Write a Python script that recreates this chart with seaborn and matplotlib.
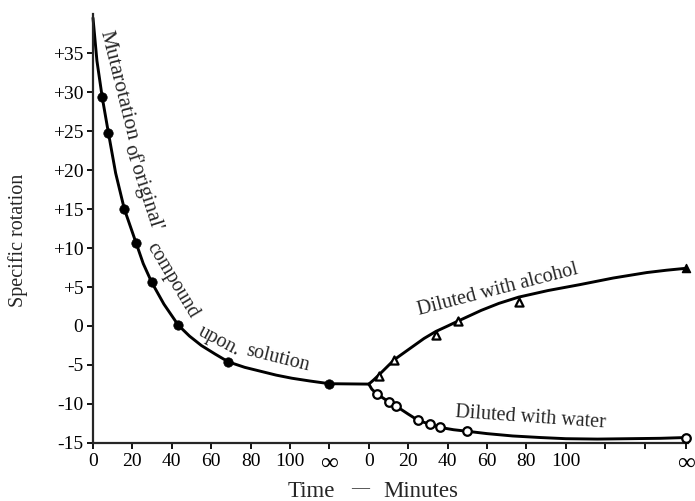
import numpy as np
import matplotlib
matplotlib.use("Agg")
import matplotlib.pyplot as plt
import seaborn as sns

INF = np.inf

# ---- data (minutes, specific rotation) ----
orig_t = [4.7, 7.8, 15.9, 21.8, 29.8, 43.3, 68.7, INF]
orig_v = [29.3, 24.8, 15.0, 10.7, 5.6, 0.1, -4.6, -7.4]

alc_t = [5, 13, 34, 45, 76, INF]
alc_v = [-6.4, -4.3, -1.2, 0.6, 3.1, 7.4]

water_t = [4, 10, 14, 25, 31, 36, 50, INF]
water_v = [-8.7, -9.7, -10.3, -12.1, -12.6, -13.0, -13.5, -14.3]

# smooth curves
curve_orig_t = [0, 2, 4.7, 7.8, 11.5, 15.9, 21.8, 25.5, 29.8, 36, 43.3, 49, 55,
                62, 68.7, 77, 85, 93, 101, 110, INF]
curve_orig_v = [39.5, 34.0, 29.3, 24.8, 19.6, 15.0, 10.7, 8.0, 5.6, 2.8, 0.1, -1.3,
                -2.5, -3.6, -4.6, -5.3, -5.8, -6.3, -6.7, -7.05, -7.4]
curve_alc_t = [0, 2.5, 5, 9, 13, 18, 23, 28, 34, 40, 45, 51, 57, 66, 76, 91, 107,
               124, 141, 151, INF]
curve_alc_v = [-7.45, -6.9, -6.3, -5.3, -4.3, -3.4, -2.5, -1.6, -0.7, 0.0, 0.6, 1.3,
               2.0, 2.9, 3.7, 4.55, 5.3, 6.15, 6.85, 7.15, 7.4]
curve_water_t = [0, 1.5, 4, 10, 14, 20, 25, 31, 36, 43, 50, 60, 73, 87, 100, 116,
                 132, 148, INF]
curve_water_v = [-7.45, -8.1, -8.7, -9.7, -10.3, -11.3, -12.1, -12.6, -13.0, -13.3,
                 -13.5, -13.8, -14.1, -14.3, -14.45, -14.5, -14.45, -14.4, -14.3]

yticks = [35, 30, 25, 20, 15, 10, 5, 0, -5, -10, -15]
ytick_labels = ["+35", "+30", "+25", "+20", "+15", "+10", "+5", "0", "-5", "-10", "-15"]
xtick_min1 = [0, 20, 40, 60, 80, 100]
xtick_min2 = [0, 20, 40, 60, 80, 100, 120, 140]
inf_label = "∞"

# ---- broken time axis layout ----
SEG2 = 140.0
INF1 = 120.0
INF2 = 301.0

def pos1(t):
    t = np.asarray(t, float)
    return np.where(np.isinf(t), INF1, t)

def pos2(t):
    t = np.asarray(t, float)
    return np.where(np.isinf(t), INF2, SEG2 + t)

sns.set_style("ticks")
plt.rcParams["font.family"] = ["Liberation Serif", "DejaVu Sans"]

fig = plt.figure(figsize=(6.95, 5.01), dpi=100)
ax = fig.add_axes([0.1338, 0.1158, 0.8562, 0.8562])

lw = 2.1
sns.lineplot(x=pos1(curve_orig_t), y=curve_orig_v, sort=False, color="black", lw=lw, ax=ax)
ax.plot([INF1, SEG2], [curve_orig_v[-1], curve_alc_v[0]], color="black", lw=lw)
sns.lineplot(x=pos2(curve_alc_t), y=curve_alc_v, sort=False, color="black", lw=lw, ax=ax)
sns.lineplot(x=pos2(curve_water_t), y=curve_water_v, sort=False, color="black", lw=lw, ax=ax)
for l in ax.lines:
    l.set_clip_on(False)
    l.set_solid_capstyle("round")
    l.set_solid_joinstyle("round")

sns.scatterplot(x=pos1(orig_t), y=orig_v, marker="o", s=46, color="black",
                edgecolor="black", linewidth=0.5, ax=ax, clip_on=False, zorder=5)
sns.scatterplot(x=pos2(water_t), y=water_v, marker="o", s=38, facecolor="white",
                edgecolor="black", linewidth=1.6, ax=ax, clip_on=False, zorder=5)
sns.scatterplot(x=pos2(alc_t[:-1]), y=alc_v[:-1], marker="^", s=34, facecolor="white",
                edgecolor="black", linewidth=1.6, ax=ax, clip_on=False, zorder=5)
sns.scatterplot(x=pos2(alc_t[-1:]), y=alc_v[-1:], marker="^", s=34, color="black",
                edgecolor="black", linewidth=1.0, ax=ax, clip_on=False, zorder=5)

ax.set_xlim(0, 302)
ax.set_ylim(-15, 40)
sns.despine(ax=ax)
for s in ["left", "bottom"]:
    ax.spines[s].set_linewidth(1.6)

xt = list(pos1(xtick_min1)) + [INF1] + list(pos2(xtick_min2)) + [INF2]
xl = [str(v) for v in xtick_min1] + [inf_label] + \
     [str(v) if v <= 100 else "" for v in xtick_min2] + [inf_label]
ax.set_xticks(xt)
ax.set_xticklabels(xl)
ax.set_yticks(yticks)
ax.set_yticklabels(ytick_labels)
ax.tick_params(axis="both", direction="out", length=4, width=1.3, labelsize=14,
               colors="black", pad=3)
for lab in ax.get_xticklabels():
    if lab.get_text() == inf_label:
        lab.set_fontsize(18)

ax.set_xlabel("")
ax.set_ylabel("")
fig.text(18 / 695, 1 - 240 / 501, "Specific rotation", rotation=90,
         ha="center", va="center", fontsize=14.5)
base = 1 - 497 / 501
fig.text(311 / 695, base, "Time", ha="center", va="baseline", fontsize=16.5)
fig.text(360 / 695, base + 4 / 501, "—", ha="center", va="baseline", fontsize=13)
fig.text(421 / 695, base, "Minutes", ha="center", va="baseline", fontsize=16.5)

tk = dict(ha="center", va="center", rotation_mode="anchor")
ax.text(12.9, 30.8, "Mutarotation", rotation=-76, fontsize=15.5, **tk)
ax.text(25.0, 17.8, "of'original'", rotation=-72, fontsize=15, **tk)
ax.text(40.3, 5.9, "compound", rotation=-59, fontsize=14.5, **tk)
ax.text(64.0, -1.9, "upon.", rotation=-28, fontsize=14.5, **tk)
ax.text(93.5, -4.1, "solution", rotation=-14, fontsize=14.5, **tk)
ax.text(205.6, 4.6, "Diluted with alcohol", rotation=14.5, fontsize=14.5, **tk)
ax.text(222.0, -11.8, "Diluted with water", rotation=-4, fontsize=14.5, **tk)

fig.savefig("out.png", dpi=100)
